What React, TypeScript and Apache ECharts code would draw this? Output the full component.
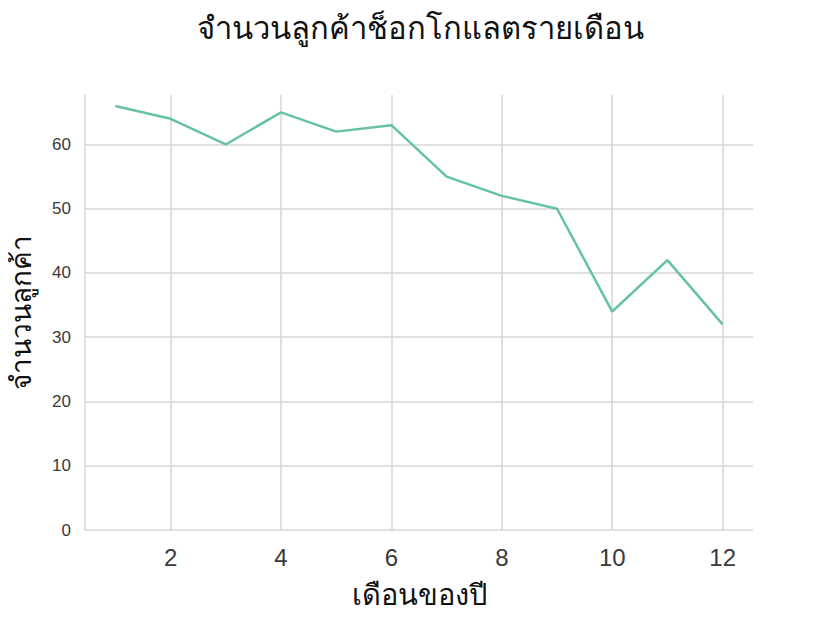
import { useEffect, useRef } from 'react';
import * as echarts from 'echarts';

const months = [1, 2, 3, 4, 5, 6, 7, 8, 9, 10, 11, 12];
const customers = [66, 64, 60, 65, 62, 63, 55, 52, 50, 34, 42, 32];
const xTicks = [2, 4, 6, 8, 10, 12];
const yTicks = [0, 10, 20, 30, 40, 50, 60];

const titleText = 'จำนวนลูกค้าช็อกโกแลตรายเดือน';
const xName = 'เดือนของปี';
const yName = 'จำนวนลูกค้า';

const gridColor = '#d6d6d6';
const textColor = '#3a3a3a';

const App = () => {
    const chartRef = useRef<HTMLDivElement>(null);

    useEffect(() => {
        if (!chartRef.current) return;
        const chart = echarts.init(chartRef.current, null, { renderer: 'svg' });

        chart.setOption({
            animation: false,
            backgroundColor: '#ffffff',
            title: {
                text: titleText,
                left: 'center',
                top: 8,
                textStyle: { fontSize: 31, fontWeight: 'normal', color: '#111111', fontFamily: 'sans-serif' }
            },
            grid: { left: 85, right: 87, top: 95, bottom: 98, outerBoundsMode: 'none', containLabel: false },
            xAxis: {
                type: 'value',
                min: 0.45,
                max: 12.55,
                name: xName,
                nameLocation: 'middle',
                nameGap: 50,
                nameTextStyle: { fontSize: 29, color: '#111111', fontFamily: 'sans-serif' },
                axisLine: { show: false },
                axisTick: { show: false, customValues: xTicks },
                axisLabel: {
                    customValues: xTicks,
                    fontSize: 24,
                    color: textColor,
                    margin: 15,
                    fontFamily: 'Liberation Sans, sans-serif'
                },
                splitLine: { show: true, lineStyle: { color: gridColor, width: 1.5 } }
            },
            yAxis: {
                type: 'value',
                min: 0,
                max: 67.7,
                name: yName,
                nameLocation: 'middle',
                nameGap: 50,
                nameTextStyle: { fontSize: 28, color: '#111111', fontFamily: 'sans-serif' },
                axisLine: { show: true, lineStyle: { color: gridColor, width: 1.5 } },
                axisTick: { show: false, customValues: yTicks },
                axisLabel: {
                    customValues: yTicks,
                    fontSize: 17,
                    color: textColor,
                    margin: 14,
                    fontFamily: 'Liberation Sans, sans-serif'
                },
                splitLine: { show: true, lineStyle: { color: gridColor, width: 1.5 } }
            },
            series: [
                {
                    type: 'line',
                    data: months.map((m, i) => [m, customers[i]]),
                    symbol: 'none',
                    lineStyle: { color: '#66c2a5', width: 2.5 },
                    itemStyle: { color: '#66c2a5' }
                }
            ]
        });

        return () => {
            chart.dispose();
        };
    }, []);

    // negative margin cancels the default 8px body margin so the chart fills the page
    return <div ref={chartRef} style={{ width: 840, height: 628, margin: -8 }} />;
};

export default App;
